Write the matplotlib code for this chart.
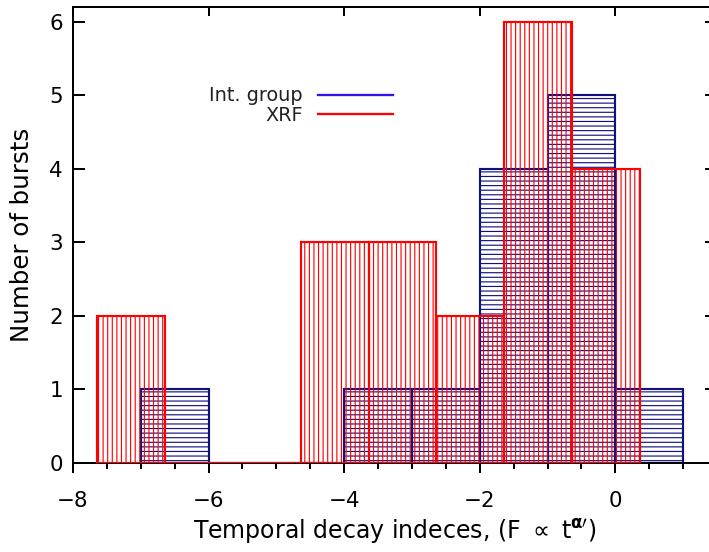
import matplotlib
matplotlib.use('Agg')
import matplotlib.pyplot as plt
from matplotlib.ticker import MultipleLocator

# ---- data ----
int_bin_left = [-7, -6, -5, -4, -3, -2, -1, 0]
int_counts = [1, 0, 0, 1, 1, 4, 5, 1]
xrf_bin_left = [-7.64, -6.64, -5.64, -4.64, -3.64, -2.64, -1.64, -0.64]
xrf_counts = [2, 0, 0, 3, 3, 2, 6, 4]
bin_width = 1.0
xticks = [-8, -6, -4, -2, 0]
yticks = [0, 1, 2, 3, 4, 5, 6]
legend_labels = ["Int. group", "XRF"]

NAVY = "#10107f"
RED = "#ff0000"
LEG_BLUE = "#3311ee"

DPI = 110
plt.rcParams['font.family'] = ['DejaVu Sans']
plt.rcParams['hatch.linewidth'] = 0.75
plt.rcParams['mathtext.fontset'] = 'dejavusans'

fig = plt.figure(figsize=(709 / DPI, 552 / DPI), dpi=DPI)
W, H = 709, 552
x0, x1, y0, y1 = 73, 717, 7, 463
ax = fig.add_axes([x0 / W, 1 - y1 / H, (x1 - x0) / W, (y1 - y0) / H])

ax.bar(int_bin_left, int_counts, width=bin_width, align='edge', fill=False,
       edgecolor=NAVY, hatch='----', linewidth=1.4, zorder=2)
ax.bar(xrf_bin_left, xrf_counts, width=bin_width, align='edge', fill=False,
       edgecolor=RED, hatch='||||', linewidth=1.4, zorder=3)

ax.set_xlim(-8, 1.5)
ax.set_ylim(0, 6.2)
ax.set_xticks(xticks)
ax.set_xticklabels([f"{t:d}".replace('-', '\u2212') for t in xticks])
ax.xaxis.set_minor_locator(MultipleLocator(0.5))
ax.set_yticks(yticks)
ax.set_yticklabels([str(t) for t in yticks])

for s in ax.spines.values():
    s.set_linewidth(1.3)

pt = 72 / DPI
ax.tick_params(axis='x', which='major', direction='out', length=10 * pt, width=1.3,
               pad=12, labelsize=14, top=False)
ax.tick_params(axis='x', which='minor', direction='out', length=6 * pt, width=1.3, top=False)
ax.tick_params(axis='y', which='major', direction='in', length=12 * pt, width=1.3,
               pad=10 * pt, labelsize=14, right=True)

sec = ax.secondary_xaxis('top')
sec.set_xticks(xticks)
sec.tick_params(direction='in', length=9 * pt, width=1.3, labeltop=False)
sec.spines['top'].set_linewidth(1.3)

ax.set_xlabel(r"Temporal decay indeces, (F $\propto$ t$^{\mathbf{\alpha}\prime}$)",
              fontsize=15.5, labelpad=4)
ax.set_ylabel("Number of bursts", fontsize=16, labelpad=10)

# legend (text left, line right)
ax_w, ax_h = x1 - x0, y1 - y0
for lab, col, ly, by in zip(legend_labels, [LEG_BLUE, RED], [95, 114], [100.7, 120.7]):
    ax.plot([(318 - x0) / ax_w, (393 - x0) / ax_w], [(y1 - ly) / ax_h] * 2,
            transform=ax.transAxes, color=col, linewidth=1.5, clip_on=False)
    ax.text((303 - x0) / ax_w, (y1 - by) / ax_h, lab, transform=ax.transAxes,
            ha='right', va='baseline', fontsize=12.6, color='#222222')

fig.savefig("out.png", dpi=DPI)
